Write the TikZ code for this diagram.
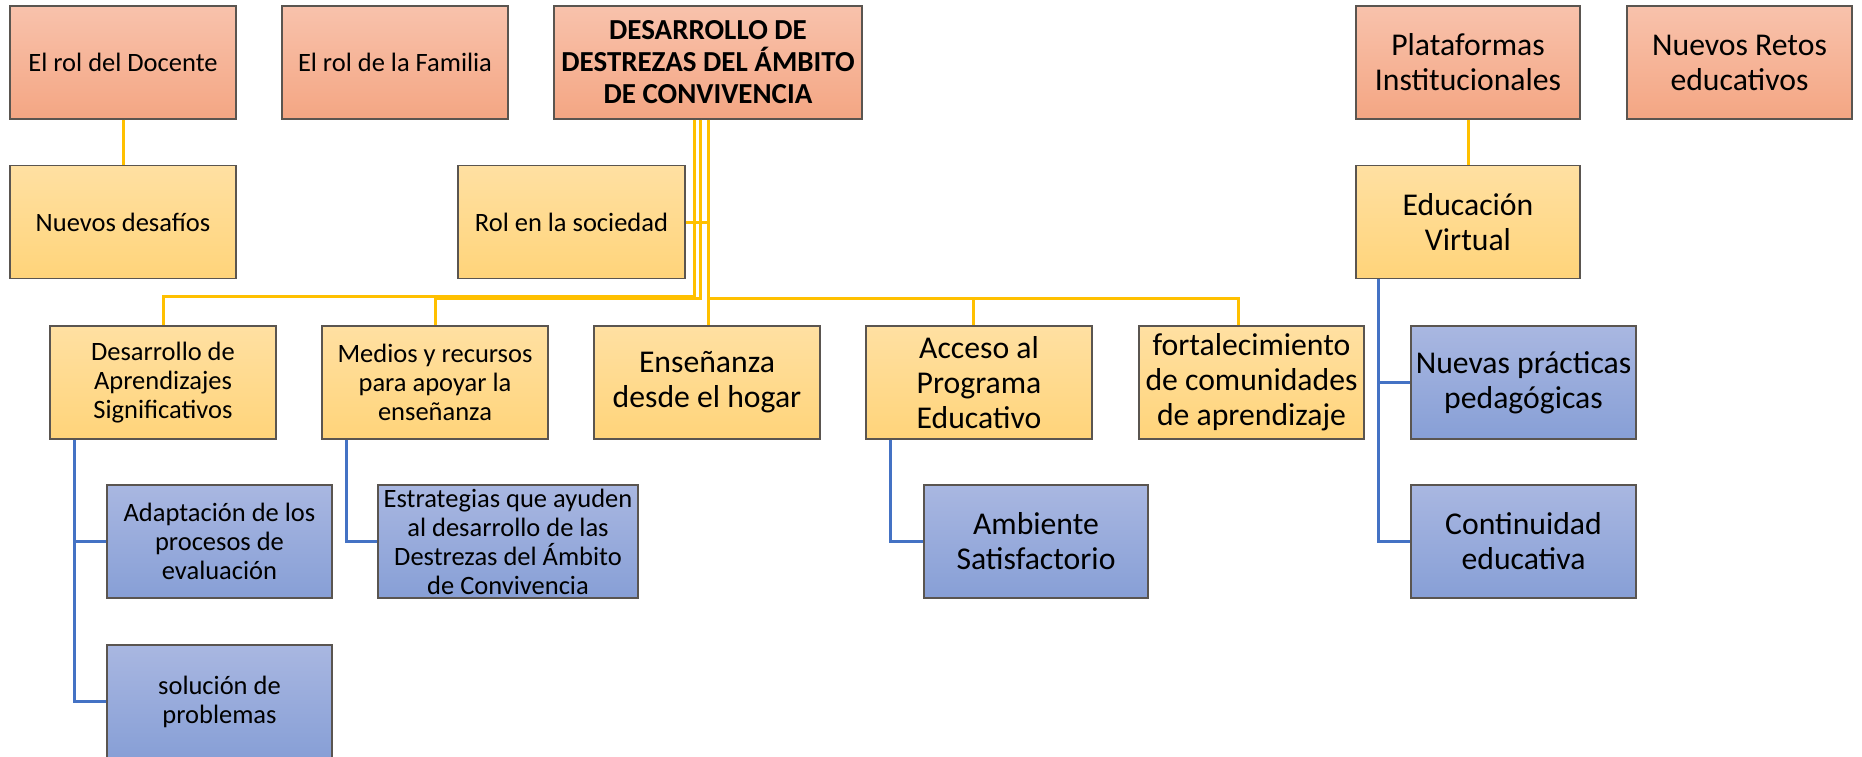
\documentclass[tikz,border=0pt]{standalone}
\usepackage{fontspec}
\setmainfont{Carlito}
\usetikzlibrary{calc}
\definecolor{salT}{RGB}{248,194,172}
\definecolor{salB}{RGB}{244,166,131}
\definecolor{yelT}{RGB}{255,224,162}
\definecolor{yelB}{RGB}{255,212,122}
\definecolor{bluT}{RGB}{169,183,225}
\definecolor{bluB}{RGB}{135,159,214}
\definecolor{edge}{RGB}{90,85,80}
\definecolor{yline}{RGB}{255,192,0}
\definecolor{bline}{RGB}{68,114,196}
\tikzset{
  basebox/.style={draw=edge, line width=1.3pt, inner sep=2pt, align=center, minimum height=113pt, text=black},
  salbox/.style={basebox, top color=salT, bottom color=salB},
  yelbox/.style={basebox, top color=yelT, bottom color=yelB},
  blubox/.style={basebox, top color=bluT, bottom color=bluB},
  smtxt/.style={font=\fontsize{26.5}{29}\selectfont},
  lgtxt/.style={font=\fontsize{31.7}{35}\selectfont},
  bdtxt/.style={font=\fontsize{29}{32}\selectfont\bfseries},
  ycon/.style={draw=yline, line width=3pt},
  bcon/.style={draw=bline, line width=3pt}
}
\begin{document}
\begin{tikzpicture}[x=1pt,y=-1pt]
\useasboundingbox (0,0) rectangle (1862,757);
% row 1
\node[salbox, smtxt, minimum width=226pt] (doc) at (123,62.5) {El rol del Docente};
\node[salbox, smtxt, minimum width=226pt] (fam) at (395,62.5) {El rol de la Familia};
\node[salbox, bdtxt, minimum width=308pt] (des) at (708,62.5) {DESARROLLO DE\\DESTREZAS DEL ÁMBITO\\DE CONVIVENCIA};
\node[salbox, lgtxt, minimum width=224pt] (plat) at (1468,62.5) {Plataformas\\Institucionales};
\node[salbox, lgtxt, minimum width=225pt] (ret) at (1739.5,62.5) {Nuevos Retos\\educativos};
% row 2
\node[yelbox, smtxt, minimum width=226pt] (nd) at (123,222) {Nuevos desafíos};
\node[yelbox, smtxt, minimum width=227pt] (rol) at (571.5,222) {Rol en la sociedad};
\node[yelbox, lgtxt, minimum width=224pt] (ev) at (1468,222) {Educación\\Virtual};
% row 3
\node[yelbox, smtxt, minimum width=226pt] (das) at (163,382.5) {Desarrollo de\\Aprendizajes\\Significativos};
\node[yelbox, smtxt, minimum width=226pt] (med) at (435,382.5) {Medios y recursos\\para apoyar la\\enseñanza};
\node[yelbox, lgtxt, minimum width=226pt] (ens) at (707,382.5) {Enseñanza\\desde el hogar};
\node[yelbox, lgtxt, minimum width=226pt] (acc) at (979,382.5) {Acceso al\\Programa\\Educativo};
\node[yelbox, lgtxt, minimum width=225pt] (fort) at (1251.5,382.5) {fortalecimiento\\de comunidades\\de aprendizaje};
\node[blubox, lgtxt, minimum width=225pt] (nue) at (1523.5,382.5) {Nuevas prácticas\\pedagógicas};
% row 4
\node[blubox, smtxt, minimum width=225pt] (adap) at (219.5,541.5) {Adaptación de los\\procesos de\\evaluación};
\node[blubox, smtxt, minimum width=260pt, inner sep=0pt] (est) at (508,541.5) {Estrategias que ayuden\\al desarrollo de las\\Destrezas del Ámbito\\de Convivencia};
\node[blubox, lgtxt, minimum width=224pt] (amb) at (1036,541.5) {Ambiente\\Satisfactorio};
\node[blubox, lgtxt, minimum width=225pt] (con) at (1523.5,541.5) {Continuidad\\educativa};
% row 5
\node[blubox, smtxt, minimum width=225pt] (sol) at (219.5,701.5) {solución de\\problemas};
% yellow connectors
\draw[ycon] (doc) -- (nd);
\draw[ycon] (plat) -- (ev);
\draw[ycon] ([xshift=-14pt]des.south) -- ($([xshift=-14pt]des.south)+(0,177)$) -| (das.north);
\draw[ycon] ([xshift=-8pt]des.south) -- ($([xshift=-8pt]des.south)+(0,179)$) -| (med.north);
\draw[ycon] (des.south) -- (des.south |- ens.north);
\draw[ycon] (rol.east) -- (rol.east -| des.south);
\draw[ycon] ($(des.south)+(0,179)$) -| ([xshift=-6pt]acc.north);
\draw[ycon] ($(des.south)+(0,179)$) -| ([xshift=-13pt]fort.north);
% blue connectors
\draw[bcon] ([xshift=-89pt]das.south) |- (adap.west);
\draw[bcon] ([xshift=-89pt]das.south) |- (sol.west);
\draw[bcon] ([xshift=-89pt]med.south) |- (est.west);
\draw[bcon] ([xshift=-89pt]acc.south) |- (amb.west);
\draw[bcon] ([xshift=-90pt]ev.south) |- (nue.west);
\draw[bcon] ([xshift=-90pt]ev.south) |- (con.west);
\end{tikzpicture}
\end{document}
